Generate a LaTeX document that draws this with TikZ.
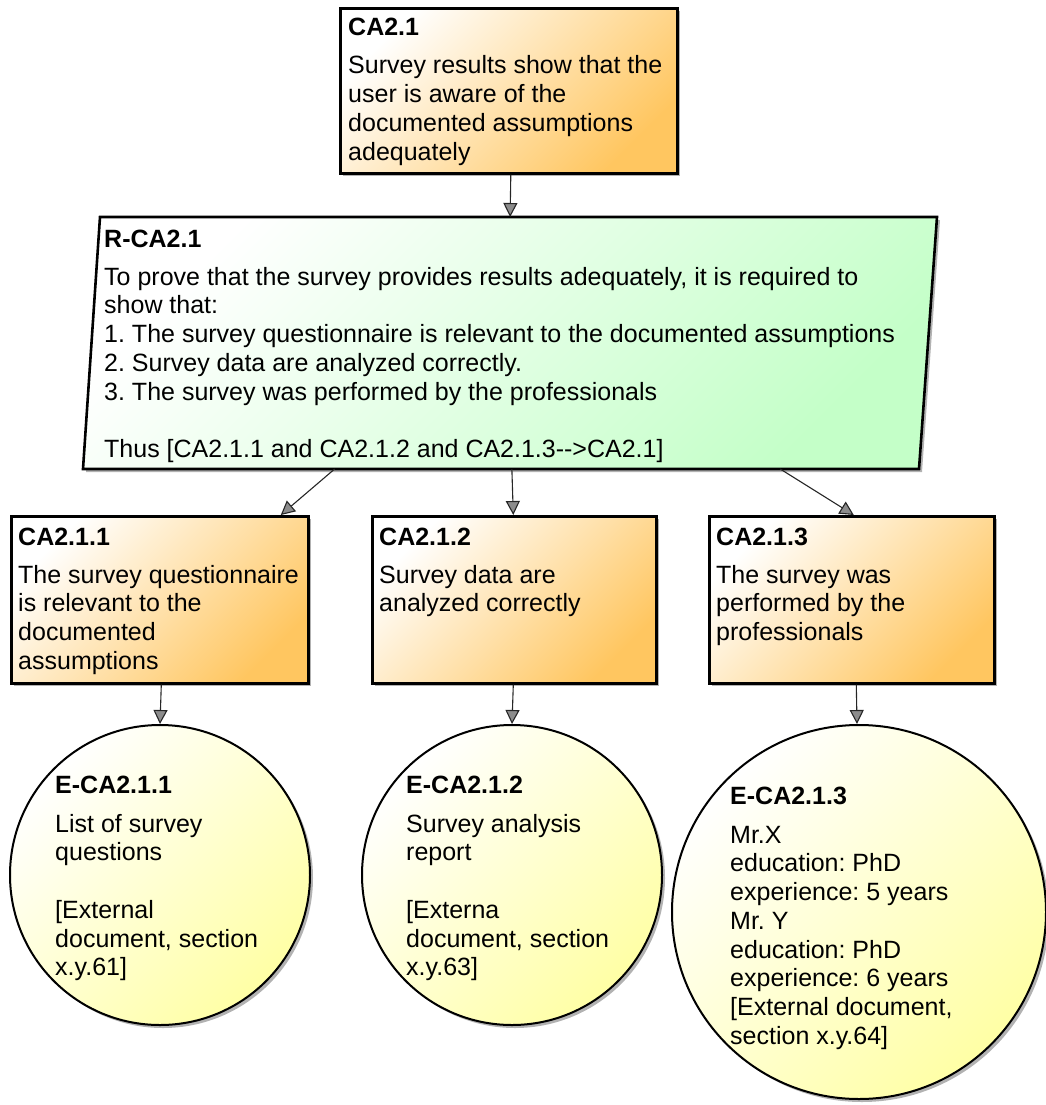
\documentclass[tikz,border=0pt]{standalone}
\usepackage{fontspec}
\setmainfont{Liberation Sans}
\usetikzlibrary{shadows,arrows.meta,calc}
\definecolor{orangeC}{RGB}{255,198,96}
\definecolor{greenC}{RGB}{196,255,200}
\definecolor{yellowC}{RGB}{255,255,165}
\frenchspacing
\tikzset{
  shad/.style={drop shadow={shadow xshift=3pt,shadow yshift=-3pt,fill=black,opacity=0.3}},
  claim/.style={rectangle, draw=black, line width=2.6pt, top color=white, bottom color=orangeC, shading angle=45, shad, inner sep=0pt, anchor=north west},
  strat/.style={draw=black, line width=2.6pt, top color=white, bottom color=greenC, shading angle=45, shad},
  evid/.style={circle, draw=black, line width=2pt, top color=white, bottom color=yellowC, shading angle=45, shad, inner sep=0pt},
  ttl/.style={anchor=base west, inner sep=0pt, font=\fontsize{25}{28.75}\selectfont\bfseries},
  bdy/.style={anchor=base west, inner sep=0pt, align=left, font=\fontsize{25}{28.75}\selectfont},
  conn/.style={draw=black!85, line width=1.1pt, -{Triangle[length=14pt,width=14pt,fill=black!45]}}
}
\begin{document}
\begin{tikzpicture}[x=1pt,y=-1pt]
\useasboundingbox (0,0) rectangle (1045,1105);

% top claim
\node[claim, minimum width=337pt, minimum height=165pt] (ca) at (339,7) {};
\node[ttl] (ca-t) at (348,36) {CA2.1};
% body nodes are placed at the baseline of their LAST line
\node[bdy] (ca-b) at (348,160.25) {Survey results show that the\\user is aware of the\\documented assumptions\\adequately};

% strategy parallelogram
\coordinate (rtl) at (100,217);
\coordinate (rtr) at (937,217);
\coordinate (rbr) at (919,469);
\coordinate (rbl) at (83,469);
\path[strat] (rtl) -- (rtr) -- (rbr) -- (rbl) -- cycle;
\node[ttl] (r-t) at (104,247) {R-CA2.1};
\node[bdy] (r-b) at (104,457.5) {To prove that the survey provides results adequately, it is required to\\show that:\\1. The survey questionnaire is relevant to the documented assumptions\\2. Survey data are analyzed correctly.\\3. The survey was performed by the professionals\\[28.75pt]Thus [CA2.1.1 and CA2.1.2 and CA2.1.3-{}->CA2.1]};

% sub claims
\node[claim, minimum width=297pt, minimum height=167pt] (c1) at (10,515) {};
\node[claim, minimum width=284pt, minimum height=167pt] (c2) at (371,515) {};
\node[claim, minimum width=285pt, minimum height=167pt] (c3) at (708,515) {};
\node[ttl] (c1-t) at (18,545) {CA2.1.1};
\node[bdy] (c1-b) at (18,669.25) {The survey questionnaire\\is relevant to the\\documented\\assumptions};
\node[ttl] (c2-t) at (379,545) {CA2.1.2};
\node[bdy] (c2-b) at (379,611.75) {Survey data are\\analyzed correctly};
\node[ttl] (c3-t) at (716,545) {CA2.1.3};
\node[bdy] (c3-b) at (716,640.5) {The survey was\\performed by the\\professionals};

% evidence circles
\node[evid, minimum size=300pt] (e1) at (160,875) {};
\node[evid, minimum size=300pt] (e2) at (512,875) {};
\node[evid, minimum size=374pt] (e3) at (859,912) {};
\node[ttl] (e1-t) at (55,793) {E-CA2.1.1};
\node[bdy] (e1-b) at (55,975.75) {List of survey\\questions\\[28.75pt][External\\document, section\\x.y.61]};
\node[ttl] (e2-t) at (406,793) {E-CA2.1.2};
\node[bdy] (e2-b) at (406,975.75) {Survey analysis\\report\\[28.75pt][Externa\\document, section\\x.y.63]};
\node[ttl] (e3-t) at (730,804) {E-CA2.1.3};
\node[bdy] (e3-b) at (730,1044.25) {Mr.X\\education: PhD\\experience: 5 years\\Mr. Y\\education: PhD\\experience: 6 years\\{[External document,}\\section x.y.64]};

% connectors
\coordinate (rin) at ($(rtl)!0.49!(rtr)$);
\coordinate (rout1) at ($(rbl)!0.301!(rbr)$);
\coordinate (rout2) at ($(rbl)!0.513!(rbr)$);
\coordinate (rout3) at ($(rbl)!0.834!(rbr)$);
\draw[conn] ([xshift=2pt]ca.south) -- (rin);
\draw[conn] (rout1) -- ([xshift=121pt]c1.north);
\draw[conn] (rout2) -- ([xshift=-1pt]c2.north);
\draw[conn] (rout3) -- ([xshift=2pt]c3.north);
\draw[conn] ([xshift=1.5pt]c1.south) -- (e1.north);
\draw[conn] ([xshift=-1pt]c2.south) -- (e2.north);
\draw[conn] ([xshift=4.5pt]c3.south) -- ([xshift=-2pt]e3.north);
\end{tikzpicture}
\end{document}
